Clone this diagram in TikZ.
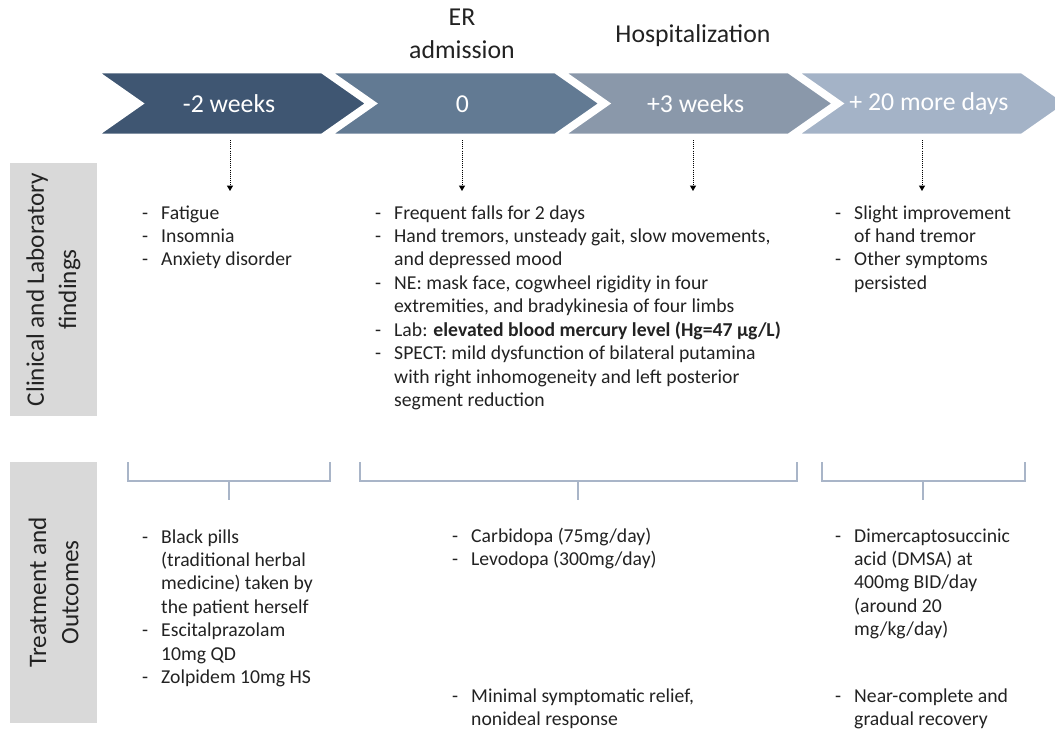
\documentclass[tikz,border=0pt]{standalone}
\usepackage{fontspec}
\setmainfont{Carlito}
\usetikzlibrary{arrows.meta, calc}
\definecolor{chevA}{HTML}{3F5672}
\definecolor{chevB}{HTML}{627A93}
\definecolor{chevC}{HTML}{8A98AA}
\definecolor{chevD}{HTML}{A4B3C7}
\definecolor{sidegray}{HTML}{D9D9D9}
\definecolor{brack}{HTML}{A9B5C8}
\definecolor{ink}{HTML}{222222}
\newenvironment{dlist}{\begin{tabular}[t]{@{}p{0.57cm}@{}l@{}}}{\end{tabular}}

\begin{document}
\begin{tikzpicture}[x=0.03cm, y=-0.03cm, font=\fontsize{16.8}{20}\selectfont, text=ink,
	chevron/.style={fill=#1, draw=white, line width=2.5pt, line join=miter},
	stagelabel/.style={text=white, font=\fontsize{22}{24}\selectfont},
	toplabel/.style={align=center, font=\fontsize{22}{28}\selectfont},
	sidebox/.style={fill=sidegray, draw=none},
	sidelabel/.style={rotate=90, align=center, font=\fontsize{21.5}{27.5}\selectfont},
	dotarrow/.style={densely dotted, thick, -{Triangle[width=5pt,length=4.5pt]}},
	bracket/.style={draw=brack, line width=1.1pt},
	list/.style={anchor=base west, inner sep=0pt}]
	\useasboundingbox (0,0) rectangle (1055,731);
	\def\dx{233.3}
	\def\W{225}
	\def\D{45}
	\def\H{63}
	
	% timeline
	\foreach \i/\col/\lab in {1/chevA/{-2 weeks}, 2/chevB/{0}, 3/chevC/{+3 weeks}, 4/chevD/{+ 20 more days}} {
		\pgfmathsetmacro\xo{97+(\i-1)*\dx}
		\draw[chevron=\col] (\xo,72) --++ (\W,0) --++ (\D,0.5*\H) --++ (-\D,0.5*\H) --++ (-\W,0) --++ (\D,-0.5*\H) -- cycle;
		\node[stagelabel] (stage\i) at (\xo+0.5*\W+0.5*\D-3,104) {\lab};
	}
	\node[toplabel] (er) at (462,34) {ER\\admission};
	\node[toplabel] (hosp) at (693,36) {Hospitalization};
	
	% dotted arrows
	\foreach \x [count=\k] in {230,462,693,922} {
		\coordinate (from\k) at (\x,140);
		\coordinate (to\k) at (\x,191);
		\draw[dotarrow] (from\k) -- (to\k);
	}
	
	% side labels
	\draw[sidebox] (10,163) rectangle (97,416);
	\node[sidelabel] (clin) at (53.5,289.5) {Clinical and Laboratory\\findings};
	\draw[sidebox] (10,462) rectangle (97,723);
	\node[sidelabel] (treat) at (53.5,592.5) {Treatment and\\Outcomes};
	
	% findings
	\node[list] (find1) at (142,219) {\begin{dlist}
		-&Fatigue\\ -&Insomnia\\ -&Anxiety disorder
	\end{dlist}};
	\node[list] (find2) at (375,219) {\begin{dlist}
		-&Frequent falls for 2 days\\
		-&Hand tremors, unsteady gait, slow movements,\\ &and depressed mood\\
		-&NE: mask face, cogwheel rigidity in four\\ &extremities, and bradykinesia of four limbs\\
		-&Lab: \textbf{elevated blood mercury level (Hg=47 µg/L)}\\
		-&SPECT: mild dysfunction of bilateral putamina\\ &with right inhomogeneity and left posterior\\ &segment reduction
	\end{dlist}};
	\node[list] (find4) at (835,219) {\begin{dlist}
		-&Slight improvement\\ &of hand tremor\\ -&Other symptoms\\ &persisted
	\end{dlist}};
	
	% brackets
	\foreach \a/\b/\m in {128/330/229, 360/797/578, 822/1025/923} {
		\draw[bracket] (\a,462) |- (\b,481) -- (\b,462);
		\draw[bracket] (\m,481) -- (\m,500);
	}
	
	% treatment and outcomes
	\node[list] (treat1) at (142,543) {\begin{dlist}
		-&Black pills\\ &(traditional herbal\\ &medicine) taken by\\ &the patient herself\\
		-&Escitalprazolam\\ &10mg QD\\ -&Zolpidem 10mg HS
	\end{dlist}};
	\node[list] (treat2) at (452,542) {\begin{dlist}
		-&Carbidopa (75mg/day)\\ -&Levodopa (300mg/day)
	\end{dlist}};
	\node[list] (out2) at (452,702) {\begin{dlist}
		-&Minimal symptomatic relief,\\ &nonideal response
	\end{dlist}};
	\node[list] (treat3) at (835,542) {\begin{dlist}
		-&Dimercaptosuccinic\\ &acid (DMSA) at\\ &400mg BID/day\\ &(around 20\\ &mg/kg/day)
	\end{dlist}};
	\node[list] (out3) at (835,702) {\begin{dlist}
		-&Near-complete and\\ &gradual recovery
	\end{dlist}};
\end{tikzpicture}
\end{document}
